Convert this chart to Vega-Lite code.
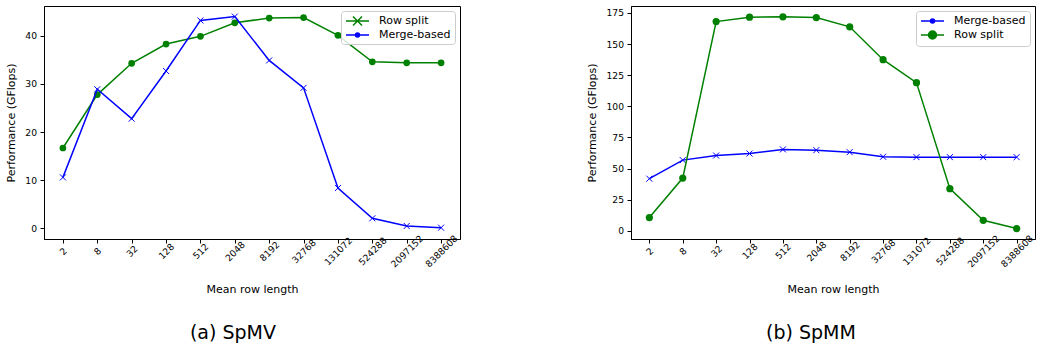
{
  "$schema": "https://vega.github.io/schema/vega-lite/v6.json",
  "background": "white",
  "padding": {"left": 5, "top": 5, "right": 5, "bottom": 5},
  "datasets": {
    "spmv": [
      {"len": 2, "series": "Row split", "perf": 16.7},
      {"len": 8, "series": "Row split", "perf": 27.8},
      {"len": 32, "series": "Row split", "perf": 34.3},
      {"len": 128, "series": "Row split", "perf": 38.3},
      {"len": 512, "series": "Row split", "perf": 39.9},
      {"len": 2048, "series": "Row split", "perf": 42.7},
      {"len": 8192, "series": "Row split", "perf": 43.7},
      {"len": 32768, "series": "Row split", "perf": 43.8},
      {"len": 131072, "series": "Row split", "perf": 40.1},
      {"len": 524288, "series": "Row split", "perf": 34.6},
      {"len": 2097152, "series": "Row split", "perf": 34.4},
      {"len": 8388608, "series": "Row split", "perf": 34.4},
      {"len": 2, "series": "Merge-based", "perf": 10.6},
      {"len": 8, "series": "Merge-based", "perf": 28.9},
      {"len": 32, "series": "Merge-based", "perf": 22.8},
      {"len": 128, "series": "Merge-based", "perf": 32.7},
      {"len": 512, "series": "Merge-based", "perf": 43.2},
      {"len": 2048, "series": "Merge-based", "perf": 44.0},
      {"len": 8192, "series": "Merge-based", "perf": 34.9},
      {"len": 32768, "series": "Merge-based", "perf": 29.2},
      {"len": 131072, "series": "Merge-based", "perf": 8.4},
      {"len": 524288, "series": "Merge-based", "perf": 2.1},
      {"len": 2097152, "series": "Merge-based", "perf": 0.5},
      {"len": 8388608, "series": "Merge-based", "perf": 0.15}
    ],
    "spmm": [
      {"len": 2, "series": "Merge-based", "perf": 41.9},
      {"len": 8, "series": "Merge-based", "perf": 56.8},
      {"len": 32, "series": "Merge-based", "perf": 60.5},
      {"len": 128, "series": "Merge-based", "perf": 62.1},
      {"len": 512, "series": "Merge-based", "perf": 65.4},
      {"len": 2048, "series": "Merge-based", "perf": 64.8},
      {"len": 8192, "series": "Merge-based", "perf": 63.2},
      {"len": 32768, "series": "Merge-based", "perf": 59.5},
      {"len": 131072, "series": "Merge-based", "perf": 59.2},
      {"len": 524288, "series": "Merge-based", "perf": 59.2},
      {"len": 2097152, "series": "Merge-based", "perf": 59.2},
      {"len": 8388608, "series": "Merge-based", "perf": 59.2},
      {"len": 2, "series": "Row split", "perf": 10.7},
      {"len": 8, "series": "Row split", "perf": 42.4},
      {"len": 32, "series": "Row split", "perf": 168.0},
      {"len": 128, "series": "Row split", "perf": 171.5},
      {"len": 512, "series": "Row split", "perf": 171.8},
      {"len": 2048, "series": "Row split", "perf": 171.2},
      {"len": 8192, "series": "Row split", "perf": 163.8},
      {"len": 32768, "series": "Row split", "perf": 137.4},
      {"len": 131072, "series": "Row split", "perf": 119.0},
      {"len": 524288, "series": "Row split", "perf": 33.9},
      {"len": 2097152, "series": "Row split", "perf": 8.5},
      {"len": 8388608, "series": "Row split", "perf": 1.9}
    ]
  },
  "config": {
    "font": "DejaVu Sans",
    "view": {"stroke": "black", "strokeWidth": 1},
    "axis": {
      "grid": false,
      "domainColor": "black",
      "tickColor": "black",
      "labelColor": "black",
      "titleColor": "black",
      "tickSize": 4,
      "labelFont": "DejaVu Sans",
      "titleFont": "DejaVu Sans",
      "labelFontSize": 9.2,
      "titleFontSize": 11,
      "titleFontWeight": "normal"
    },
    "legend": {
      "orient": "top-right",
      "offset": 5,
      "padding": 4,
      "fillColor": "rgba(255,255,255,0.85)",
      "strokeColor": "#cccccc",
      "cornerRadius": 3,
      "symbolSize": 100,
      "labelFont": "DejaVu Sans",
      "labelFontSize": 11,
      "labelColor": "black",
      "labelOffset": 22,
      "rowPadding": 0
    },
    "title": {"font": "DejaVu Sans", "fontSize": 19, "fontWeight": "normal", "color": "black"}
  },
  "resolve": {"scale": {"color": "independent"}, "legend": {"color": "independent"}},
  "spacing": 125,
  "hconcat": [
    {
      "width": 416,
      "height": 233,
      "data": {"name": "spmv"},
      "title": {"text": "(a) SpMV", "orient": "bottom", "frame": "bounds", "anchor": "middle", "offset": 30},
      "encoding": {
        "x": {
          "field": "len", "type": "ordinal",
          "scale": {"type": "point", "padding": 0.55},
          "axis": {
            "title": "Mean row length", "labelAngle": -45, "labelAlign": "center", "labelBaseline": "middle",
            "labelPadding": 8, "titlePadding": 14,
            "encode": {"labels": {"update": {"dx": {"signal": "-1.46*length(datum.label)"}, "dy": {"signal": "1.46*length(datum.label)"}}}}
          }
        },
        "y": {
          "field": "perf", "type": "quantitative",
          "scale": {"domain": [-2.2, 46.2], "nice": false, "zero": false},
          "axis": {"title": "Performance (GFlops)", "values": [0, 10, 20, 30, 40], "labelPadding": 3.5, "titlePadding": 8}
        }
      },
      "layer": [
        {
          "transform": [{"filter": "datum.series === 'Row split'"}],
          "mark": {"type": "line", "strokeWidth": 1.5},
          "encoding": {
            "color": {
              "field": "series", "type": "nominal",
              "scale": {"domain": ["Row split", "Merge-based"], "range": ["#008000", "#0000ff"]},
              "legend": {
                "title": null,
                "rowPadding": 0,
                "encode": {"symbols": {"update": {
                  "shape": {"signal": "datum.value === 'Row split' ? 'M-1,0H3.6M0.4,-0.9L2.2,0.9M0.4,0.9L2.2,-0.9' : 'M-1,0H3.6M1.7,0A0.4,0.4 0 1,1 0.9,0A0.4,0.4 0 1,1 1.7,0Z'"},
                  "fill": {"signal": "datum.value === 'Row split' ? 'transparent' : '#0000ff'"},
                  "stroke": {"signal": "datum.value === 'Row split' ? '#008000' : '#0000ff'"},
                  "strokeWidth": {"value": 1.5},
                  "opacity": {"value": 1}
                }}}
              }
            }
          }
        },
        {
          "transform": [{"filter": "datum.series === 'Row split'"}],
          "mark": {"type": "point", "shape": "circle", "filled": true, "size": 45, "color": "#008000", "opacity": 1}
        },
        {
          "transform": [{"filter": "datum.series === 'Merge-based'"}],
          "mark": {"type": "line", "strokeWidth": 1.5},
          "encoding": {
            "color": {"field": "series", "type": "nominal", "scale": {"domain": ["Row split", "Merge-based"], "range": ["#008000", "#0000ff"]}}
          }
        },
        {
          "transform": [{"filter": "datum.series === 'Merge-based'"}],
          "mark": {"type": "point", "shape": "M-1,-1L1,1M-1,1L1,-1", "filled": false, "size": 36, "strokeWidth": 1, "color": "#0000ff", "opacity": 1}
        }
      ]
    },
    {
      "width": 404,
      "height": 233,
      "data": {"name": "spmm"},
      "title": {"text": "(b) SpMM", "orient": "bottom", "frame": "bounds", "anchor": "middle", "offset": 30},
      "encoding": {
        "x": {
          "field": "len", "type": "ordinal",
          "scale": {"type": "point", "padding": 0.55},
          "axis": {
            "title": "Mean row length", "labelAngle": -45, "labelAlign": "center", "labelBaseline": "middle",
            "labelPadding": 8, "titlePadding": 14,
            "encode": {"labels": {"update": {"dx": {"signal": "-1.46*length(datum.label)"}, "dy": {"signal": "1.46*length(datum.label)"}}}}
          }
        },
        "y": {
          "field": "perf", "type": "quantitative",
          "scale": {"domain": [-6.5, 180.5], "nice": false, "zero": false},
          "axis": {"title": "Performance (GFlops)", "values": [0, 25, 50, 75, 100, 125, 150, 175], "labelPadding": 3.5, "titlePadding": 8}
        }
      },
      "layer": [
        {
          "transform": [{"filter": "datum.series === 'Merge-based'"}],
          "mark": {"type": "line", "strokeWidth": 1.5},
          "encoding": {
            "color": {
              "field": "series", "type": "nominal",
              "scale": {"domain": ["Merge-based", "Row split"], "range": ["#0000ff", "#008000"]},
              "legend": {
                "title": null,
                "rowPadding": 2,
                "encode": {"symbols": {"update": {
                  "shape": {"signal": "datum.value === 'Row split' ? 'M-1,0H3.6M2.1,0A0.8,0.8 0 1,1 0.5,0A0.8,0.8 0 1,1 2.1,0Z' : 'M-1,0H3.6M1.7,0A0.4,0.4 0 1,1 0.9,0A0.4,0.4 0 1,1 1.7,0Z'"},
                  "fill": {"signal": "datum.value === 'Row split' ? '#008000' : '#0000ff'"},
                  "stroke": {"signal": "datum.value === 'Row split' ? '#008000' : '#0000ff'"},
                  "strokeWidth": {"value": 1.5},
                  "opacity": {"value": 1}
                }}}
              }
            }
          }
        },
        {
          "transform": [{"filter": "datum.series === 'Merge-based'"}],
          "mark": {"type": "point", "shape": "M-1,-1L1,1M-1,1L1,-1", "filled": false, "size": 36, "strokeWidth": 1, "color": "#0000ff", "opacity": 1}
        },
        {
          "transform": [{"filter": "datum.series === 'Row split'"}],
          "mark": {"type": "line", "strokeWidth": 1.5},
          "encoding": {
            "color": {"field": "series", "type": "nominal", "scale": {"domain": ["Merge-based", "Row split"], "range": ["#0000ff", "#008000"]}}
          }
        },
        {
          "transform": [{"filter": "datum.series === 'Row split'"}],
          "mark": {"type": "point", "shape": "circle", "filled": true, "size": 52, "color": "#008000", "opacity": 1}
        }
      ]
    }
  ]
}
